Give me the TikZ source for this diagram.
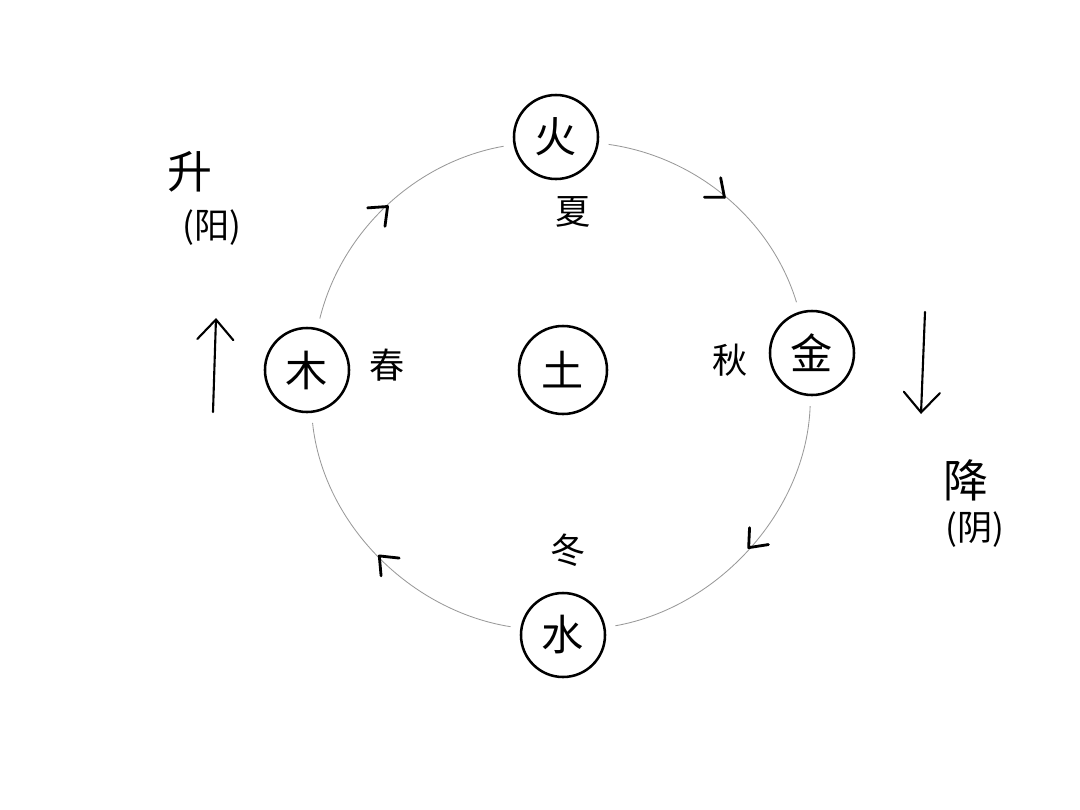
\documentclass[tikz,border=0pt]{standalone}
\usepackage{fontspec}
\newfontfamily\cjk{Noto Sans CJK SC}
\usetikzlibrary{arrows.meta,decorations.markings}

\begin{document}
\begin{tikzpicture}[
        x=0.025cm,y=-0.025cm,
        element/.style={circle,draw,line width=1.8pt,fill=white,minimum size=2.1cm,inner sep=0pt,font=\cjk\fontsize{30}{30}\selectfont},
        season/.style={font=\cjk\fontsize{25}{25}\selectfont},
        side/.style={font=\cjk\fontsize{32}{32}\selectfont},
        yinyang/.style={font=\cjk\fontsize{25}{25}\selectfont},
        cycle/.style={draw=gray!80,line width=0.6pt,looseness=0.95,shorten <=7pt,shorten >=7pt,
            postaction={decorate},
            decoration={markings,mark=at position 0.5 with {\draw[draw=black,line width=2pt,line cap=round,line join=round,shorten <=0pt,shorten >=0pt] (-11pt,9pt) -- (0pt,0pt) -- (-11pt,-9pt);}}},
        flow/.style={-{Straight Barb[length=5mm,width=9mm,line cap=round]},line width=1.5pt,line cap=round}
    ]
        \useasboundingbox (0,0) rectangle (1080,810);

        \node[element] (fire) at (556,137) {火};
        \node[element] (metal) at (812,353) {金};
        \node[element] (water) at (563,635) {水};
        \node[element] (wood) at (307,370) {木};
        \node[element,minimum size=2.2cm] (earth) at (563,370) {土};

        \draw[cycle] (wood) to[out=76,in=190] (fire);
        \draw[cycle] (fire) to[out=-8,in=107] (metal);
        \draw[cycle] (metal) to[out=-92,in=10] (water);
        \draw[cycle] (water) to[out=171,in=-84] (wood);

        \node[season] (summer) at (573,212) {夏};
        \node[season] (spring) at (387,365) {春};
        \node[season] (autumn) at (730,360) {秋};
        \node[season] (winter) at (568,550) {冬};

        % rising and sinking
        \node[side] (rise) at (190,172) {升};
        \node[yinyang] (yang) at (212,228) {(阳)};
        \node[side] (sink) at (966,480) {降};
        \node[yinyang] (yin) at (975,530) {(阴)};

        \coordinate (up1) at (213,412);
        \coordinate (up2) at (216,318);
        \coordinate (down1) at (925,312);
        \coordinate (down2) at (921,414);
        \draw[flow] (up1) -- (up2);
        \draw[flow] (down1) -- (down2);
    \end{tikzpicture}
\end{document}
